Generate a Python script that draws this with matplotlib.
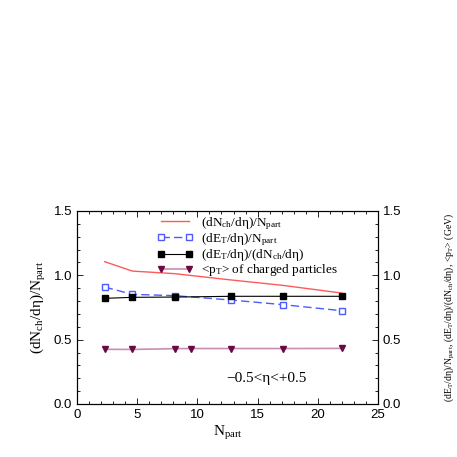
import matplotlib
matplotlib.use("Agg")
import matplotlib.pyplot as plt
from matplotlib.ticker import MultipleLocator

plt.rcParams['font.family'] = ['Liberation Serif', 'DejaVu Serif']
plt.rcParams['mathtext.default'] = 'regular'

npart = [2.3, 4.6, 8.1, 12.8, 17.1, 22.0]
dnch_npart = [1.106, 1.033, 1.013, 0.964, 0.922, 0.862]
det_npart = [0.909, 0.852, 0.842, 0.808, 0.772, 0.725]
det_dnch = [0.821, 0.829, 0.831, 0.837, 0.837, 0.837]
npart_pt = [2.3, 4.6, 8.1, 9.5, 12.8, 17.1, 22.0]
mean_pt = [0.425, 0.424, 0.430, 0.431, 0.431, 0.431, 0.432]

xticks = [0, 5, 10, 15, 20, 25]
yticks = [0.0, 0.5, 1.0, 1.5]

tickfont = dict(family=['Liberation Sans', 'DejaVu Sans'], fontsize=9.5)

fig = plt.figure(figsize=(4.57, 4.57), dpi=100)
ax = fig.add_axes([0.1685, 0.116, 0.6586, 0.4223])

ax.plot(npart, dnch_npart, color='#ff5a5a', lw=1.0,
        label=r'(dN$_{ch}$/dη)/N$_{part}$')
ax.plot(npart, det_npart, color='#4a5cff', lw=1.0, ls=(0, (6, 3)),
        marker='s', ms=4.5, mfc='white', mec='#4a5cff', mew=1.0,
        label=r'(dE$_{T}$/dη)/N$_{part}$')
ax.plot(npart, det_dnch, color='black', lw=0.8,
        marker='s', ms=4.5, mfc='black', mec='black',
        label=r'(dE$_{T}$/dη)/(dN$_{ch}$/dη)')
ax.plot(npart_pt, mean_pt, color='#c890b0', lw=1.2,
        marker='v', ms=5, mfc='#6a0a45', mec='#6a0a45',
        label=r'<p$_{T}$> of charged particles')

ax.set_xlim(0, 25)
ax.set_ylim(0, 1.5)
ax.set_xticks(xticks)
ax.set_yticks(yticks)
ax.set_xticklabels([str(v) for v in xticks], **tickfont)
ax.set_yticklabels([f'{v:.1f}' for v in yticks], **tickfont)
ax.xaxis.set_minor_locator(MultipleLocator(1))
ax.yaxis.set_minor_locator(MultipleLocator(0.1))
ax.tick_params(which='both', direction='in', top=True, right=False)
ax.tick_params(which='major', length=4, width=0.6)
ax.tick_params(which='minor', length=2, width=0.6)
for s in ax.spines.values():
    s.set_linewidth(0.8)

ax.set_xlabel(r'N$_{part}$', fontsize=11, labelpad=2)
ax.set_ylabel(r'(dN$_{ch}$/dη)/N$_{part}$', fontsize=11, labelpad=4)

ax2 = ax.twinx()
ax2.set_ylim(0, 1.5)
ax2.set_yticks(yticks)
ax2.set_yticklabels([f'{v:.1f}' for v in yticks], **tickfont)
ax2.yaxis.set_minor_locator(MultipleLocator(0.1))
ax2.tick_params(which='both', direction='in')
ax2.tick_params(which='major', length=4, width=0.6)
ax2.tick_params(which='minor', length=2, width=0.6)
ax2.set_ylabel(r'(dE$_{T}$/dη)/N$_{part}$, (dE$_{T}$/dη)/(dN$_{ch}$/dη), <p$_{T}$> (GeV)',
               fontsize=7, labelpad=29)

ax.text(15.7, 0.2, '−0.5<η<+0.5', fontsize=11, ha='center', va='center')

ax.legend(loc='upper left', bbox_to_anchor=(0.24, 1.02), frameon=False,
          fontsize=9.5, handlelength=2.7, handletextpad=0.6, numpoints=2,
          labelspacing=-0.05, borderaxespad=0.2)

fig.savefig('out.png', dpi=100)
